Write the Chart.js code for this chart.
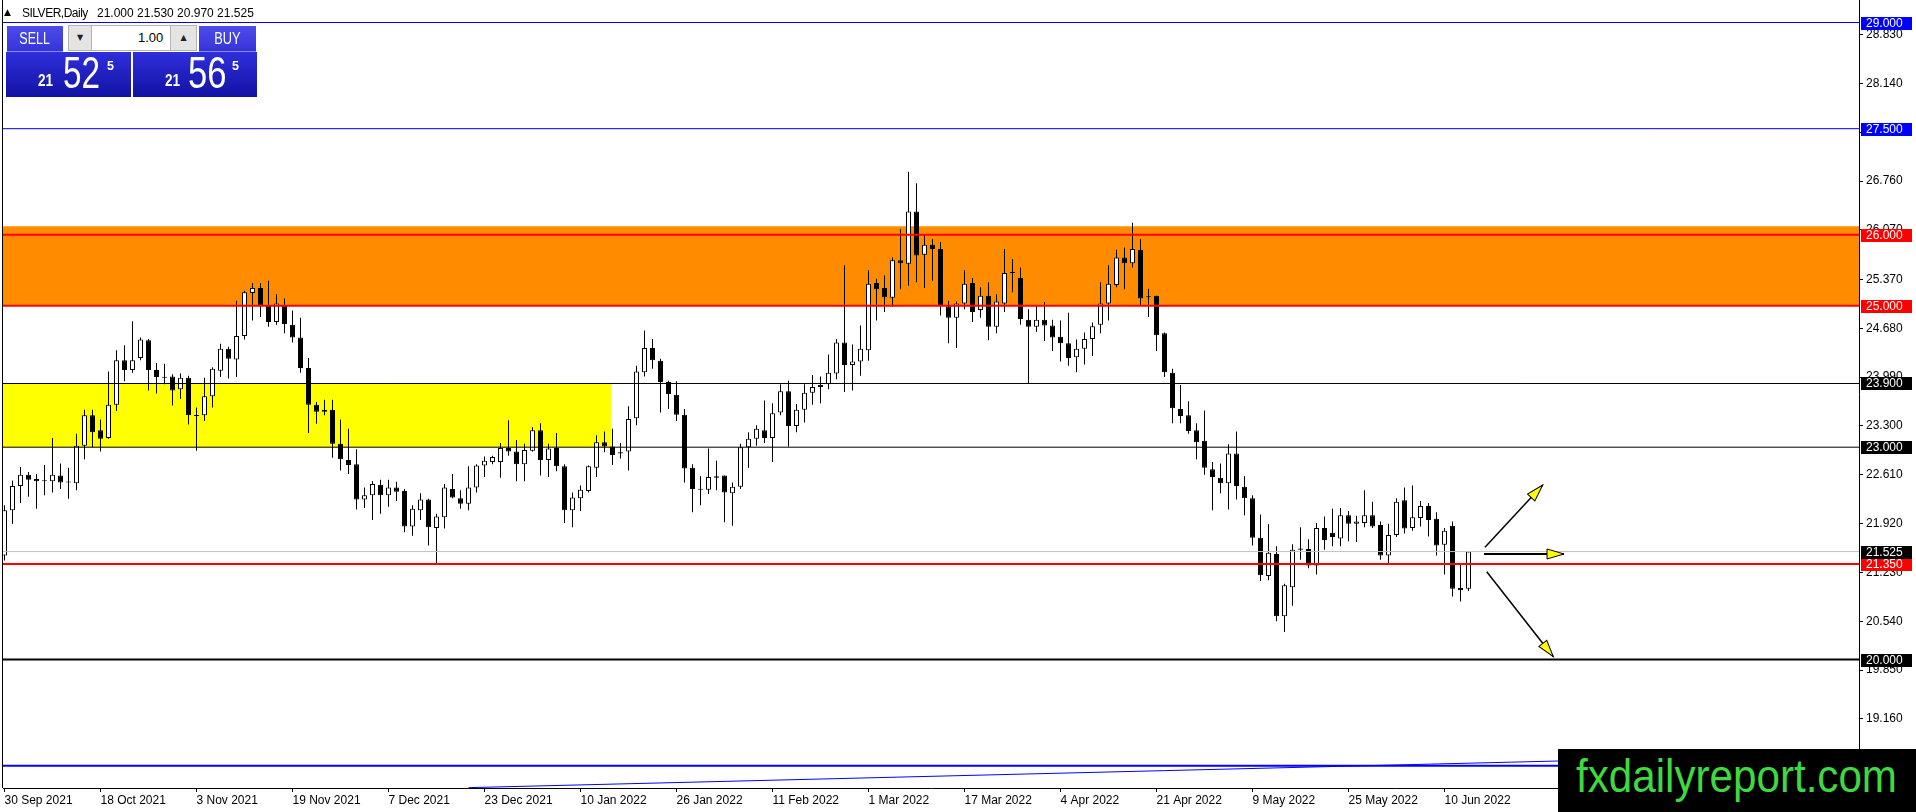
<!DOCTYPE html>
<html>
<head>
<meta charset="utf-8">
<title>SILVER, Daily</title>
<script src="https://cdn.jsdelivr.net/npm/chart.js"></script>
<style>
  html, body { margin: 0; padding: 0; background: #fff; }
  #wrap { position: relative; width: 1916px; height: 812px; overflow: hidden; background: #fff; }
  #chart { position: absolute; left: 0; top: 0; }
  .t { position: absolute; white-space: nowrap; font-family: "Liberation Sans", Arial, sans-serif; }
  .nx { display: inline-block; transform-origin: left center; }
  .btn { position: absolute; top: 26px; height: 25px; background: linear-gradient(#4c4cec, #3434da);
         border-bottom: 1px solid #8c8cf0; color: #fff; font: 16px "Liberation Sans", Arial, sans-serif;
         line-height: 25px; text-align: center; }
  .spin { position: absolute; top: 25px; height: 26px; background: #e4e4e4; border: 1px solid #b4b4b4;
          box-sizing: border-box; font: 8px "DejaVu Sans", sans-serif; line-height: 24px; text-align: center; color: #222; }
  .lot { position: absolute; top: 25px; height: 26px; left: 92px; width: 78px; background: #fff;
         border-top: 1px solid #b4b4b4; border-bottom: 1px solid #b4b4b4; box-sizing: border-box; }
  .quote { position: absolute; top: 52px; height: 45px; background: linear-gradient(#2f2fdc, #1212a4); }
  .q { color: #fff; }
</style>
</head>
<body>
<div id="wrap">
  <canvas id="chart" width="1916" height="812" style="width:1916px;height:812px"></canvas>

  <div class="t" style="left:4px;top:8px;font:9px 'DejaVu Sans',sans-serif;line-height:9px">▲</div>
  <div class="t" style="left:22px;top:7px;font-size:12px;line-height:12px;letter-spacing:-0.5px">SILVER,Daily</div>
  <div class="t" style="left:97px;top:7px;font-size:12px;line-height:12px">21.000 21.530 20.970 21.525</div>

  <div class="btn" style="left:7px;width:56px"><span class="nx" style="transform:scaleX(0.78);transform-origin:center">SELL</span></div>
  <div class="spin" style="left:68px;width:24px">▼</div>
  <div class="lot"></div>
  <div class="t" style="left:138px;top:31px;font-size:13px;line-height:13px;color:#000">1.00</div>
  <div class="spin" style="left:170px;width:27px">▲</div>
  <div class="btn" style="left:199px;width:57px"><span class="nx" style="transform:scaleX(0.8);transform-origin:center">BUY</span></div>

  <div class="quote" style="left:6px;width:125px"></div>
  <div class="quote" style="left:133px;width:124px"></div>
  <div class="t q" style="left:38px;top:73px;font-size:16px;line-height:16px;font-weight:bold"><span class="nx" style="transform:scaleX(0.85)">21</span></div>
  <div class="t q" style="left:63px;top:50px;font-size:45px;line-height:45px"><span class="nx" style="transform:scaleX(0.74)">52</span></div>
  <div class="t q" style="left:107px;top:60px;font-size:12.5px;line-height:12.5px;font-weight:bold">5</div>
  <div class="t q" style="left:165px;top:73px;font-size:16px;line-height:16px;font-weight:bold"><span class="nx" style="transform:scaleX(0.85)">21</span></div>
  <div class="t q" style="left:188px;top:50px;font-size:45px;line-height:45px"><span class="nx" style="transform:scaleX(0.77)">56</span></div>
  <div class="t q" style="left:232px;top:60px;font-size:12.5px;line-height:12.5px;font-weight:bold">5</div>

  <div style="position:absolute;left:1558px;top:749px;width:358px;height:63px;background:#000">
    <div class="t" style="left:18px;top:3px;font-size:47px;line-height:47px;color:#3fd83f;transform:scaleX(0.897);transform-origin:left top">fxdailyreport.com</div>
  </div>
</div>

<script>
// daily candles, 30 Sep 2021 .. 15 Jun 2022 (bar index = position)
const opens = [
  21.47, 22.11, 22.45, 22.61, 22.55, 22.53, 22.52, 22.60, 22.51, 22.49,
  23.02, 23.45, 23.24, 23.13, 23.60, 24.23, 24.09, 24.26, 24.51, 24.09,
  23.99, 24.00, 23.82, 23.98, 23.45, 23.45, 23.72, 24.08, 24.39, 24.24,
  24.57, 25.18, 25.25, 25.00, 24.77, 25.00, 24.73, 24.55, 24.12, 23.60,
  23.50, 23.53, 23.05, 22.82, 22.76, 22.26, 22.32, 22.47, 22.32, 22.43,
  22.38, 21.88, 22.11, 22.26, 21.86, 22.01, 22.41, 22.28, 22.20, 22.43,
  22.74, 22.79, 22.79, 22.99, 22.94, 22.76, 22.95, 23.24, 22.82, 22.99,
  22.73, 22.11, 22.28, 22.38, 22.71, 23.07, 23.01, 22.91, 22.94, 23.41,
  24.06, 24.40, 24.22, 23.92, 23.74, 23.46, 22.71, 22.41, 22.40, 22.59,
  22.60, 22.35, 22.44, 23.00, 23.12, 23.24, 23.13, 23.49, 23.79, 23.30,
  23.53, 23.77, 23.85, 23.89, 24.04, 24.48, 24.16, 24.21, 24.37, 25.32,
  25.25, 25.11, 25.64, 25.59, 26.33, 25.72, 25.86, 25.80, 24.99, 24.83,
  25.03, 25.32, 24.94, 25.14, 24.70, 25.03, 25.47, 25.39, 24.80, 24.70,
  24.80, 24.72, 24.56, 24.47, 24.27, 24.39, 24.53, 24.73, 25.03, 25.29,
  25.68, 25.60, 25.79, 25.13, 25.14, 24.61, 24.05, 23.54, 23.45, 23.24,
  23.09, 22.69, 22.57, 22.49, 22.91, 22.44, 22.28, 21.72, 21.18, 21.49,
  20.61, 21.02, 21.57, 21.56, 21.33, 21.86, 21.79, 21.71, 22.04, 21.92,
  21.93, 22.04, 21.90, 21.47, 21.76, 22.25, 21.86, 22.00, 22.17, 21.99,
  21.62, 21.89, 21.01, 21.000
];
const highs = [
  22.18, 22.53, 22.72, 22.65, 22.62, 22.75, 23.13, 22.77, 22.71, 23.19,
  23.53, 23.53, 23.39, 24.07, 24.37, 24.44, 24.78, 24.55, 24.53, 24.19,
  24.18, 24.03, 24.04, 24.01, 23.56, 23.98, 24.13, 24.46, 24.42, 25.07,
  25.21, 25.32, 25.32, 25.35, 25.16, 25.10, 24.93, 24.83, 24.26, 23.64,
  23.67, 23.67, 23.39, 23.26, 22.97, 22.43, 22.52, 22.54, 22.54, 22.51,
  22.41, 22.18, 22.35, 22.27, 22.06, 22.48, 22.62, 22.39, 22.73, 22.76,
  22.87, 22.88, 23.06, 23.38, 23.10, 23.05, 23.28, 23.34, 23.05, 23.20,
  22.76, 22.36, 22.46, 22.74, 23.17, 23.22, 23.26, 23.06, 23.58, 24.15,
  24.65, 24.53, 24.25, 23.94, 23.93, 23.54, 22.76, 22.59, 22.98, 22.81,
  22.60, 22.50, 23.05, 23.21, 23.31, 23.66, 23.62, 23.89, 23.94, 23.61,
  23.89, 24.02, 24.00, 24.31, 24.53, 25.57, 24.45, 24.72, 25.50, 25.38,
  25.43, 25.68, 26.08, 26.89, 26.73, 26.01, 25.94, 25.90, 25.07, 25.06,
  25.50, 25.39, 25.26, 25.33, 25.16, 25.80, 25.66, 25.54, 24.95, 25.01,
  25.05, 24.80, 24.79, 24.90, 24.52, 24.62, 24.76, 25.33, 25.57, 25.79,
  25.82, 26.17, 25.94, 25.24, 25.14, 24.62, 24.11, 23.88, 23.65, 23.34,
  23.52, 22.79, 22.77, 23.04, 23.22, 22.59, 22.32, 22.05, 21.91, 21.60,
  21.07, 21.63, 21.87, 21.70, 21.93, 22.02, 22.13, 22.14, 22.10, 22.03,
  22.39, 22.23, 21.95, 21.92, 22.28, 22.43, 22.46, 22.24, 22.21, 22.08,
  21.86, 21.95, 21.34, 21.530
];
const lows = [
  21.40, 21.92, 22.21, 22.30, 22.13, 22.32, 22.36, 22.41, 22.27, 22.39,
  22.83, 23.00, 22.94, 23.12, 23.51, 23.93, 24.05, 24.23, 23.80, 23.76,
  23.89, 23.59, 23.68, 23.32, 22.95, 23.37, 23.56, 23.99, 23.97, 23.99,
  24.52, 24.79, 24.84, 24.70, 24.73, 24.61, 24.48, 24.05, 23.20, 23.33,
  23.45, 22.85, 22.67, 22.62, 22.12, 22.14, 21.97, 22.06, 22.16, 22.24,
  21.80, 21.75, 21.97, 21.61, 21.36, 21.85, 22.28, 22.13, 22.11, 22.36,
  22.58, 22.76, 22.57, 22.88, 22.52, 22.52, 22.94, 22.60, 22.58, 22.66,
  21.93, 21.87, 22.10, 22.36, 22.58, 22.93, 22.75, 22.84, 22.67, 23.31,
  24.00, 24.11, 23.49, 23.54, 23.37, 22.50, 22.08, 22.18, 22.34, 22.39,
  21.94, 21.89, 22.41, 22.71, 23.02, 23.06, 22.79, 23.45, 23.01, 23.21,
  23.35, 23.60, 23.62, 23.82, 23.96, 23.78, 23.80, 24.01, 24.22, 24.79,
  24.91, 24.98, 25.23, 25.28, 25.33, 25.25, 25.35, 24.86, 24.47, 24.40,
  24.95, 24.77, 24.83, 24.51, 24.61, 24.91, 25.19, 24.73, 23.90, 24.63,
  24.50, 24.36, 24.21, 24.15, 24.06, 24.17, 24.29, 24.61, 24.79, 25.26,
  25.23, 25.54, 25.00, 24.84, 24.36, 23.99, 23.34, 23.34, 23.19, 22.83,
  22.61, 22.11, 22.35, 22.12, 22.26, 22.04, 21.61, 21.11, 21.12, 20.54,
  20.39, 20.76, 21.41, 21.29, 21.20, 21.55, 21.60, 21.60, 21.67, 21.66,
  21.87, 21.86, 21.41, 21.36, 21.73, 21.78, 21.82, 21.88, 21.74, 21.47,
  21.20, 20.89, 20.82, 20.970
];
const closes = [
  22.11, 22.45, 22.61, 22.54, 22.52, 22.52, 22.61, 22.50, 22.50, 23.02,
  23.45, 23.21, 23.12, 23.60, 24.23, 24.09, 24.23, 24.52, 24.09, 23.99,
  23.98, 23.80, 23.98, 23.45, 23.44, 23.72, 24.11, 24.39, 24.25, 24.57,
  25.19, 25.25, 25.00, 24.77, 25.03, 24.74, 24.55, 24.12, 23.60, 23.50,
  23.53, 23.05, 22.83, 22.75, 22.26, 22.32, 22.48, 22.32, 22.43, 22.37,
  21.88, 22.13, 22.26, 21.87, 22.02, 22.43, 22.29, 22.20, 22.43, 22.74,
  22.81, 22.86, 22.99, 22.94, 22.76, 22.96, 23.24, 22.82, 22.98, 22.73,
  22.11, 22.29, 22.40, 22.73, 23.07, 23.01, 22.89, 22.93, 23.40, 24.07,
  24.40, 24.23, 23.92, 23.75, 23.46, 22.70, 22.41, 22.40, 22.58, 22.57,
  22.36, 22.44, 23.00, 23.12, 23.26, 23.13, 23.48, 23.79, 23.30, 23.53,
  23.77, 23.85, 23.88, 24.05, 24.48, 24.16, 24.21, 24.39, 25.31, 25.23,
  25.12, 25.64, 25.60, 26.33, 25.71, 25.86, 25.80, 25.00, 24.83, 25.03,
  25.31, 24.91, 25.14, 24.70, 25.06, 25.46, 25.46, 24.81, 24.70, 24.80,
  24.72, 24.55, 24.47, 24.26, 24.39, 24.53, 24.71, 25.03, 25.31, 25.68,
  25.60, 25.80, 25.10, 25.12, 24.58, 24.06, 23.55, 23.44, 23.23, 23.07,
  22.71, 22.58, 22.49, 22.91, 22.45, 22.28, 21.72, 21.19, 21.51, 20.61,
  21.05, 21.55, 21.55, 21.33, 21.86, 21.69, 21.73, 22.04, 21.92, 21.95,
  22.04, 21.88, 21.47, 21.76, 22.23, 21.85, 22.01, 22.17, 21.97, 21.61,
  21.82, 21.00, 20.98, 21.525
];

const xTickBars = [0, 12, 24, 36, 48, 60, 72, 84, 96, 108, 120, 132, 144, 156, 168, 180];
const xTickLabels = ['30 Sep 2021', '18 Oct 2021', '3 Nov 2021', '19 Nov 2021', '7 Dec 2021',
  '23 Dec 2021', '10 Jan 2022', '26 Jan 2022', '11 Feb 2022', '1 Mar 2022', '17 Mar 2022',
  '4 Apr 2022', '21 Apr 2022', '9 May 2022', '25 May 2022', '10 Jun 2022'];
const yTickValues = [28.83, 28.14, 27.45, 26.76, 26.07, 25.37, 24.68, 23.99, 23.30,
  22.61, 21.92, 21.23, 20.54, 19.85, 19.16, 18.47];

// drawn objects
const levelPrices = [29.0, 27.5, 26.0, 25.0, 23.9, 23.0, 21.35, 20.0];
const bidPrice = 21.525;
const orangeZone = [25.0, 26.12];
const yellowZone = [23.0, 23.9];
const yellowZoneEndBar = 75.8;
const baseLinePrice = 18.5;
const trendBars = [58, 231.8];
const trendPrices = [18.19, 18.67];
const arrowStartBars = [185.06, 184.94, 185.28];
const arrowStartPrices = [21.586, 21.491, 21.241];
const arrowEndBars = [192.28, 194.94, 193.6];
const arrowEndPrices = [22.466, 21.491, 20.04];

// styles
const levelColors = ['#0000ff', '#0000ff', '#ff0000', '#ff0000', '#000000', '#000000', '#ff0000', '#000000'];
const levelWidths = [1, 1, 2, 2, 1, 1, 2, 2];
const arrowWidths = [1.5, 2, 1.5];

// view range (8 px per bar, 70.78 px per price unit)
const xMin = -0.1875, xMax = 231.8125;
const yMin = 18.185, yMax = 29.318;

Chart.defaults.font.family = '"Liberation Sans", Arial, sans-serif';
Chart.defaults.color = '#000';

const idx = opens.map((_, i) => i);

function hLine(price, color, width) {
  return {
    type: 'line', data: [{x: xMin, y: price}, {x: xMax, y: price}],
    borderColor: color, borderWidth: width, pointRadius: 0, fill: false, order: 1
  };
}

const datasets = [
  {
    type: 'line', data: [{x: xMin, y: orangeZone[1]}, {x: xMax, y: orangeZone[1]}],
    borderColor: 'rgba(0,0,0,0)', borderWidth: 0, pointRadius: 0,
    fill: {value: orangeZone[0]}, backgroundColor: '#ff8c00', order: 10
  },
  {
    type: 'line', data: [{x: xMin, y: yellowZone[1]}, {x: yellowZoneEndBar, y: yellowZone[1]}],
    borderColor: 'rgba(0,0,0,0)', borderWidth: 0, pointRadius: 0,
    fill: {value: yellowZone[0]}, backgroundColor: '#ffff00', order: 10
  },
  {
    type: 'bar', data: idx.map(i => ({x: i, y: [lows[i], highs[i]]})),
    backgroundColor: '#000', borderWidth: 0, grouped: false, maxBarThickness: 1,
    inflateAmount: 0, order: 3
  },
  {
    type: 'bar', data: idx.map(i => ({x: i, y: [opens[i], closes[i]]})),
    backgroundColor: idx.map(i => closes[i] >= opens[i] ? '#ffffff' : '#000000'),
    borderColor: '#000', borderWidth: 1, borderSkipped: false, grouped: false,
    maxBarThickness: 5, minBarLength: 1, inflateAmount: 0, order: 2
  },
  hLine(bidPrice, '#c0c0c0', 1),
  hLine(baseLinePrice, '#0000ff', 2),
  {
    type: 'line', data: trendBars.map((b, i) => ({x: b, y: trendPrices[i]})),
    borderColor: '#0000ff', borderWidth: 1, pointRadius: 0, fill: false, order: 1
  }
];
levelPrices.forEach((p, i) => datasets.push(hLine(p, levelColors[i], levelWidths[i])));
arrowStartBars.forEach((b, i) => datasets.push({
  type: 'line', arrowHead: true,
  data: [{x: b, y: arrowStartPrices[i]}, {x: arrowEndBars[i], y: arrowEndPrices[i]}],
  borderColor: '#000', borderWidth: arrowWidths[i], pointRadius: 0, fill: false, order: 0
}));

const arrowHeads = {
  id: 'arrowHeads',
  afterDatasetsDraw(chart) {
    const ctx = chart.ctx;
    chart.data.datasets.forEach((ds, i) => {
      if (!ds.arrowHead) return;
      const pts = chart.getDatasetMeta(i).data;
      const a = pts[0], b = pts[pts.length - 1];
      const ang = Math.atan2(b.y - a.y, b.x - a.x);
      ctx.save();
      ctx.translate(b.x, b.y);
      ctx.rotate(ang);
      ctx.beginPath();
      ctx.moveTo(0, 0);
      ctx.lineTo(-17, -5);
      ctx.lineTo(-17, 5);
      ctx.closePath();
      ctx.fillStyle = '#ffff00';
      ctx.fill();
      ctx.lineWidth = 1;
      ctx.strokeStyle = '#000';
      ctx.stroke();
      ctx.restore();
    });
  }
};

// left frame line and price tags on the right scale
const priceTags = {
  id: 'priceTags',
  afterDraw(chart) {
    const {ctx, chartArea} = chart;
    const y = chart.scales.y;
    ctx.save();
    ctx.fillStyle = '#000';
    ctx.fillRect(chartArea.left - 1, 0, 1, chartArea.bottom);
    ctx.font = '12px "Liberation Sans", Arial, sans-serif';
    ctx.textBaseline = 'middle';
    const tags = levelPrices.map((p, i) => ({p, color: levelColors[i]}));
    tags.push({p: bidPrice, color: '#000000'});
    tags.forEach(t => {
      const py = Math.round(y.getPixelForValue(t.p));
      ctx.fillStyle = t.color;
      ctx.fillRect(chartArea.right + 2, py - 6, 51, 13);
      ctx.fillStyle = '#fff';
      ctx.fillText(t.p.toFixed(3), chartArea.right + 7, py + 1);
    });
    ctx.restore();
  }
};

new Chart(document.getElementById('chart'), {
  type: 'bar',
  data: {datasets},
  plugins: [arrowHeads, priceTags],
  options: {
    responsive: false,
    animation: false,
    devicePixelRatio: 1,
    events: [],
    layout: {padding: {left: 3, top: 0, right: 0, bottom: 0}, autoPadding: false},
    plugins: {
      legend: {display: false},
      tooltip: {enabled: false},
      filler: {drawTime: 'beforeDatasetsDraw'}
    },
    scales: {
      x: {
        type: 'linear', min: xMin, max: xMax, offset: false,
        grid: {display: true, drawOnChartArea: false, drawTicks: true, tickLength: 4, color: '#000', offset: false},
        border: {display: true, color: '#000', width: 1},
        ticks: {
          autoSkip: false, maxRotation: 0, align: 'start', padding: 1,
          font: {size: 12}, color: '#000',
          callback: (v, i) => xTickLabels[i]
        },
        afterBuildTicks: s => { s.ticks = xTickBars.map(v => ({value: v})); },
        afterFit: s => { s.height = 24; s.paddingLeft = 0; s.paddingRight = 0; }
      },
      y: {
        type: 'linear', position: 'right', min: yMin, max: yMax,
        grid: {display: true, drawOnChartArea: false, drawTicks: true, tickLength: 4, color: '#000'},
        border: {display: true, color: '#000', width: 1},
        ticks: {
          autoSkip: false, padding: 3, font: {size: 12}, color: '#000',
          callback: v => v.toFixed(3)
        },
        afterBuildTicks: s => { s.ticks = yTickValues.map(v => ({value: v})); },
        afterFit: s => { s.width = 57; s.paddingTop = 0; s.paddingBottom = 0; }
      }
    }
  }
});
</script>
</body>
</html>
